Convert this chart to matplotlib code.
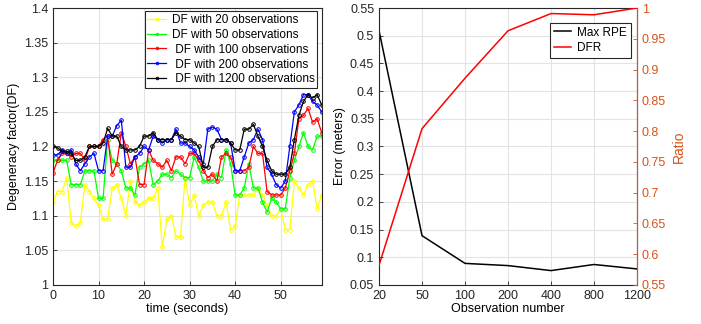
import numpy as np
import matplotlib.pyplot as plt
import matplotlib.ticker as mticker

plt.rcParams['font.family'] = ['Liberation Sans', 'DejaVu Sans']
plt.rcParams['font.size'] = 9

# ── Left panel: degeneracy factor over time ──────────────────────────────────
time_s = list(range(60))

df_20 = [1.12, 1.135, 1.135, 1.155, 1.09, 1.085, 1.09, 1.145, 1.135, 1.125,
         1.115, 1.095, 1.095, 1.14, 1.145, 1.125, 1.10, 1.15, 1.12, 1.115,
         1.12, 1.125, 1.125, 1.14, 1.055, 1.095, 1.10, 1.07, 1.07, 1.155,
         1.115, 1.13, 1.10, 1.115, 1.12, 1.12, 1.10, 1.10, 1.12, 1.08,
         1.085, 1.13, 1.13, 1.13, 1.13, 1.14, 1.13, 1.115, 1.10, 1.10,
         1.11, 1.08, 1.08, 1.15, 1.14, 1.13, 1.145, 1.15, 1.11, 1.13]
df_50 = [1.18, 1.18, 1.18, 1.18, 1.145, 1.145, 1.145, 1.165, 1.165, 1.165,
         1.125, 1.125, 1.21, 1.18, 1.175, 1.165, 1.14, 1.14, 1.13, 1.17,
         1.175, 1.18, 1.145, 1.15, 1.16, 1.16, 1.155, 1.165, 1.16, 1.155,
         1.155, 1.185, 1.17, 1.15, 1.15, 1.15, 1.16, 1.155, 1.195, 1.175,
         1.13, 1.13, 1.14, 1.175, 1.14, 1.14, 1.12, 1.105, 1.125, 1.12,
         1.11, 1.11, 1.155, 1.18, 1.20, 1.22, 1.20, 1.195, 1.215, 1.215]
df_100 = [1.162, 1.18, 1.19, 1.19, 1.185, 1.19, 1.19, 1.18, 1.20, 1.20,
          1.20, 1.21, 1.215, 1.16, 1.175, 1.22, 1.20, 1.175, 1.185, 1.145,
          1.145, 1.195, 1.18, 1.175, 1.17, 1.18, 1.165, 1.185, 1.185, 1.175,
          1.19, 1.19, 1.18, 1.165, 1.155, 1.16, 1.15, 1.185, 1.19, 1.185,
          1.165, 1.165, 1.165, 1.17, 1.20, 1.19, 1.19, 1.135, 1.13, 1.13,
          1.13, 1.14, 1.165, 1.19, 1.24, 1.245, 1.255, 1.235, 1.24, 1.22]
df_200 = [1.188, 1.188, 1.195, 1.19, 1.195, 1.175, 1.165, 1.175, 1.185, 1.19,
          1.165, 1.165, 1.215, 1.215, 1.23, 1.238, 1.17, 1.17, 1.185, 1.19,
          1.20, 1.195, 1.215, 1.21, 1.205, 1.21, 1.21, 1.225, 1.205, 1.205,
          1.20, 1.195, 1.185, 1.175, 1.225, 1.228, 1.225, 1.21, 1.21, 1.205,
          1.165, 1.165, 1.185, 1.205, 1.21, 1.225, 1.21, 1.17, 1.16, 1.145,
          1.14, 1.15, 1.20, 1.25, 1.26, 1.275, 1.275, 1.265, 1.26, 1.25]
df_1200 = [1.20, 1.198, 1.193, 1.193, 1.19, 1.18, 1.18, 1.185, 1.20, 1.20,
           1.20, 1.205, 1.226, 1.215, 1.215, 1.20, 1.195, 1.195, 1.195, 1.20,
           1.215, 1.215, 1.22, 1.21, 1.21, 1.21, 1.21, 1.22, 1.215, 1.21,
           1.21, 1.205, 1.20, 1.17, 1.17, 1.20, 1.21, 1.21, 1.21, 1.205,
           1.195, 1.195, 1.225, 1.225, 1.232, 1.215, 1.20, 1.18, 1.165, 1.16,
           1.16, 1.16, 1.17, 1.21, 1.245, 1.265, 1.275, 1.27, 1.275, 1.26]

series_labels = ["DF with 20 observations", "DF with 50 observations",
                 " DF with 100 observations", " DF with 200 observations",
                 " DF with 1200 observations"]
series_colors = ["#FFFF00", "#00FF00", "#FF0000", "#0000FF", "#000000"]

# ── Right panel: error and ratio vs observation number ───────────────────────
obs_labels = ["20", "50", "100", "200", "400", "800", "1200"]
max_rpe = [0.509, 0.139, 0.089, 0.085, 0.076, 0.087, 0.079]
dfr = [0.582, 0.804, 0.886, 0.963, 0.991, 0.989, 1.0]

ORANGE = "#D95319"
AXCOL = "#262626"
GRIDCOL = "#e3e3e3"

fig = plt.figure(figsize=(7.01, 3.24), dpi=100)
ax_df = fig.add_axes([0.0756, 0.1204, 0.3833, 0.8549])
ax_err = fig.add_axes([0.5407, 0.1204, 0.3680, 0.8549])


def style_axes(ax):
    for sp in ax.spines.values():
        sp.set_color(AXCOL)
        sp.set_linewidth(0.8)
    ax.tick_params(direction="in", length=3, width=0.6, colors=AXCOL,
                   labelcolor=AXCOL, top=False, right=False, labelsize=9)
    ax.grid(True, color=GRIDCOL, linewidth=0.8)
    ax.set_axisbelow(True)


g_fmt = mticker.FuncFormatter(lambda v, _: f"{v:g}")

for vals, lab, col in zip([df_20, df_50, df_100, df_200, df_1200],
                          series_labels, series_colors):
    ax_df.plot(time_s, vals, color=col, marker="o", markersize=2.6,
               markerfacecolor="none", markeredgewidth=0.7, linewidth=0.9,
               label=lab)

style_axes(ax_df)
ax_df.set_xlim(0, 59)
ax_df.set_ylim(1.0, 1.4)
ax_df.set_xticks([0, 10, 20, 30, 40, 50])
ax_df.set_yticks(np.arange(1.0, 1.401, 0.05))
ax_df.yaxis.set_major_formatter(g_fmt)
ax_df.set_xlabel("time (seconds)", labelpad=1)
ax_df.set_ylabel("Degeneracy factor(DF)", labelpad=3)
leg = ax_df.legend(loc="upper right", bbox_to_anchor=(0.983, 0.988),
                   fontsize=8.5, handlelength=1.6, handletextpad=0.5,
                   borderpad=0.2, labelspacing=0.25, fancybox=False,
                   framealpha=1, edgecolor=AXCOL, markerscale=0.7,
                   borderaxespad=0)
leg.get_frame().set_linewidth(0.8)

# right panel
xpos = np.arange(len(obs_labels))
ln1, = ax_err.plot(xpos, max_rpe, color="black", linewidth=1.1, label="Max RPE")
style_axes(ax_err)
ax_err.set_xlim(0, len(obs_labels) - 1)
ax_err.set_ylim(0.05, 0.55)
ax_err.set_xticks(xpos)
ax_err.set_xticklabels(obs_labels)
ax_err.set_yticks(np.arange(0.05, 0.551, 0.05))
ax_err.yaxis.set_major_formatter(g_fmt)
ax_err.set_xlabel("Observation number", labelpad=1)
ax_err.set_ylabel("Error (meters)", labelpad=3)

ax_ratio = ax_err.twinx()
ln2, = ax_ratio.plot(xpos, dfr, color="#FF0000", linewidth=1.1, label="DFR")
ax_ratio.set_ylim(0.55, 1.0)
ax_ratio.set_yticks(np.arange(0.55, 1.001, 0.05))
ax_ratio.yaxis.set_major_formatter(g_fmt)
ax_ratio.tick_params(axis="y", direction="in", length=3, width=0.6,
                     colors=ORANGE, labelcolor=ORANGE, labelsize=9)
ax_ratio.spines["right"].set_color(ORANGE)
ax_ratio.spines["right"].set_linewidth(0.8)
for side in ["left", "top", "bottom"]:
    ax_ratio.spines[side].set_visible(False)
ax_ratio.set_ylabel("Ratio", color=ORANGE, labelpad=4, fontsize=10)

leg2 = ax_ratio.legend([ln1, ln2], ["Max RPE", "DFR"], loc="upper right",
                       bbox_to_anchor=(0.975, 0.946), fontsize=8.5,
                       handlelength=1.5, handletextpad=0.5, borderpad=0.3,
                       labelspacing=0.3, fancybox=False, framealpha=1,
                       edgecolor=AXCOL, borderaxespad=0)
leg2.get_frame().set_linewidth(0.8)

fig.savefig("out.png", dpi=100)
